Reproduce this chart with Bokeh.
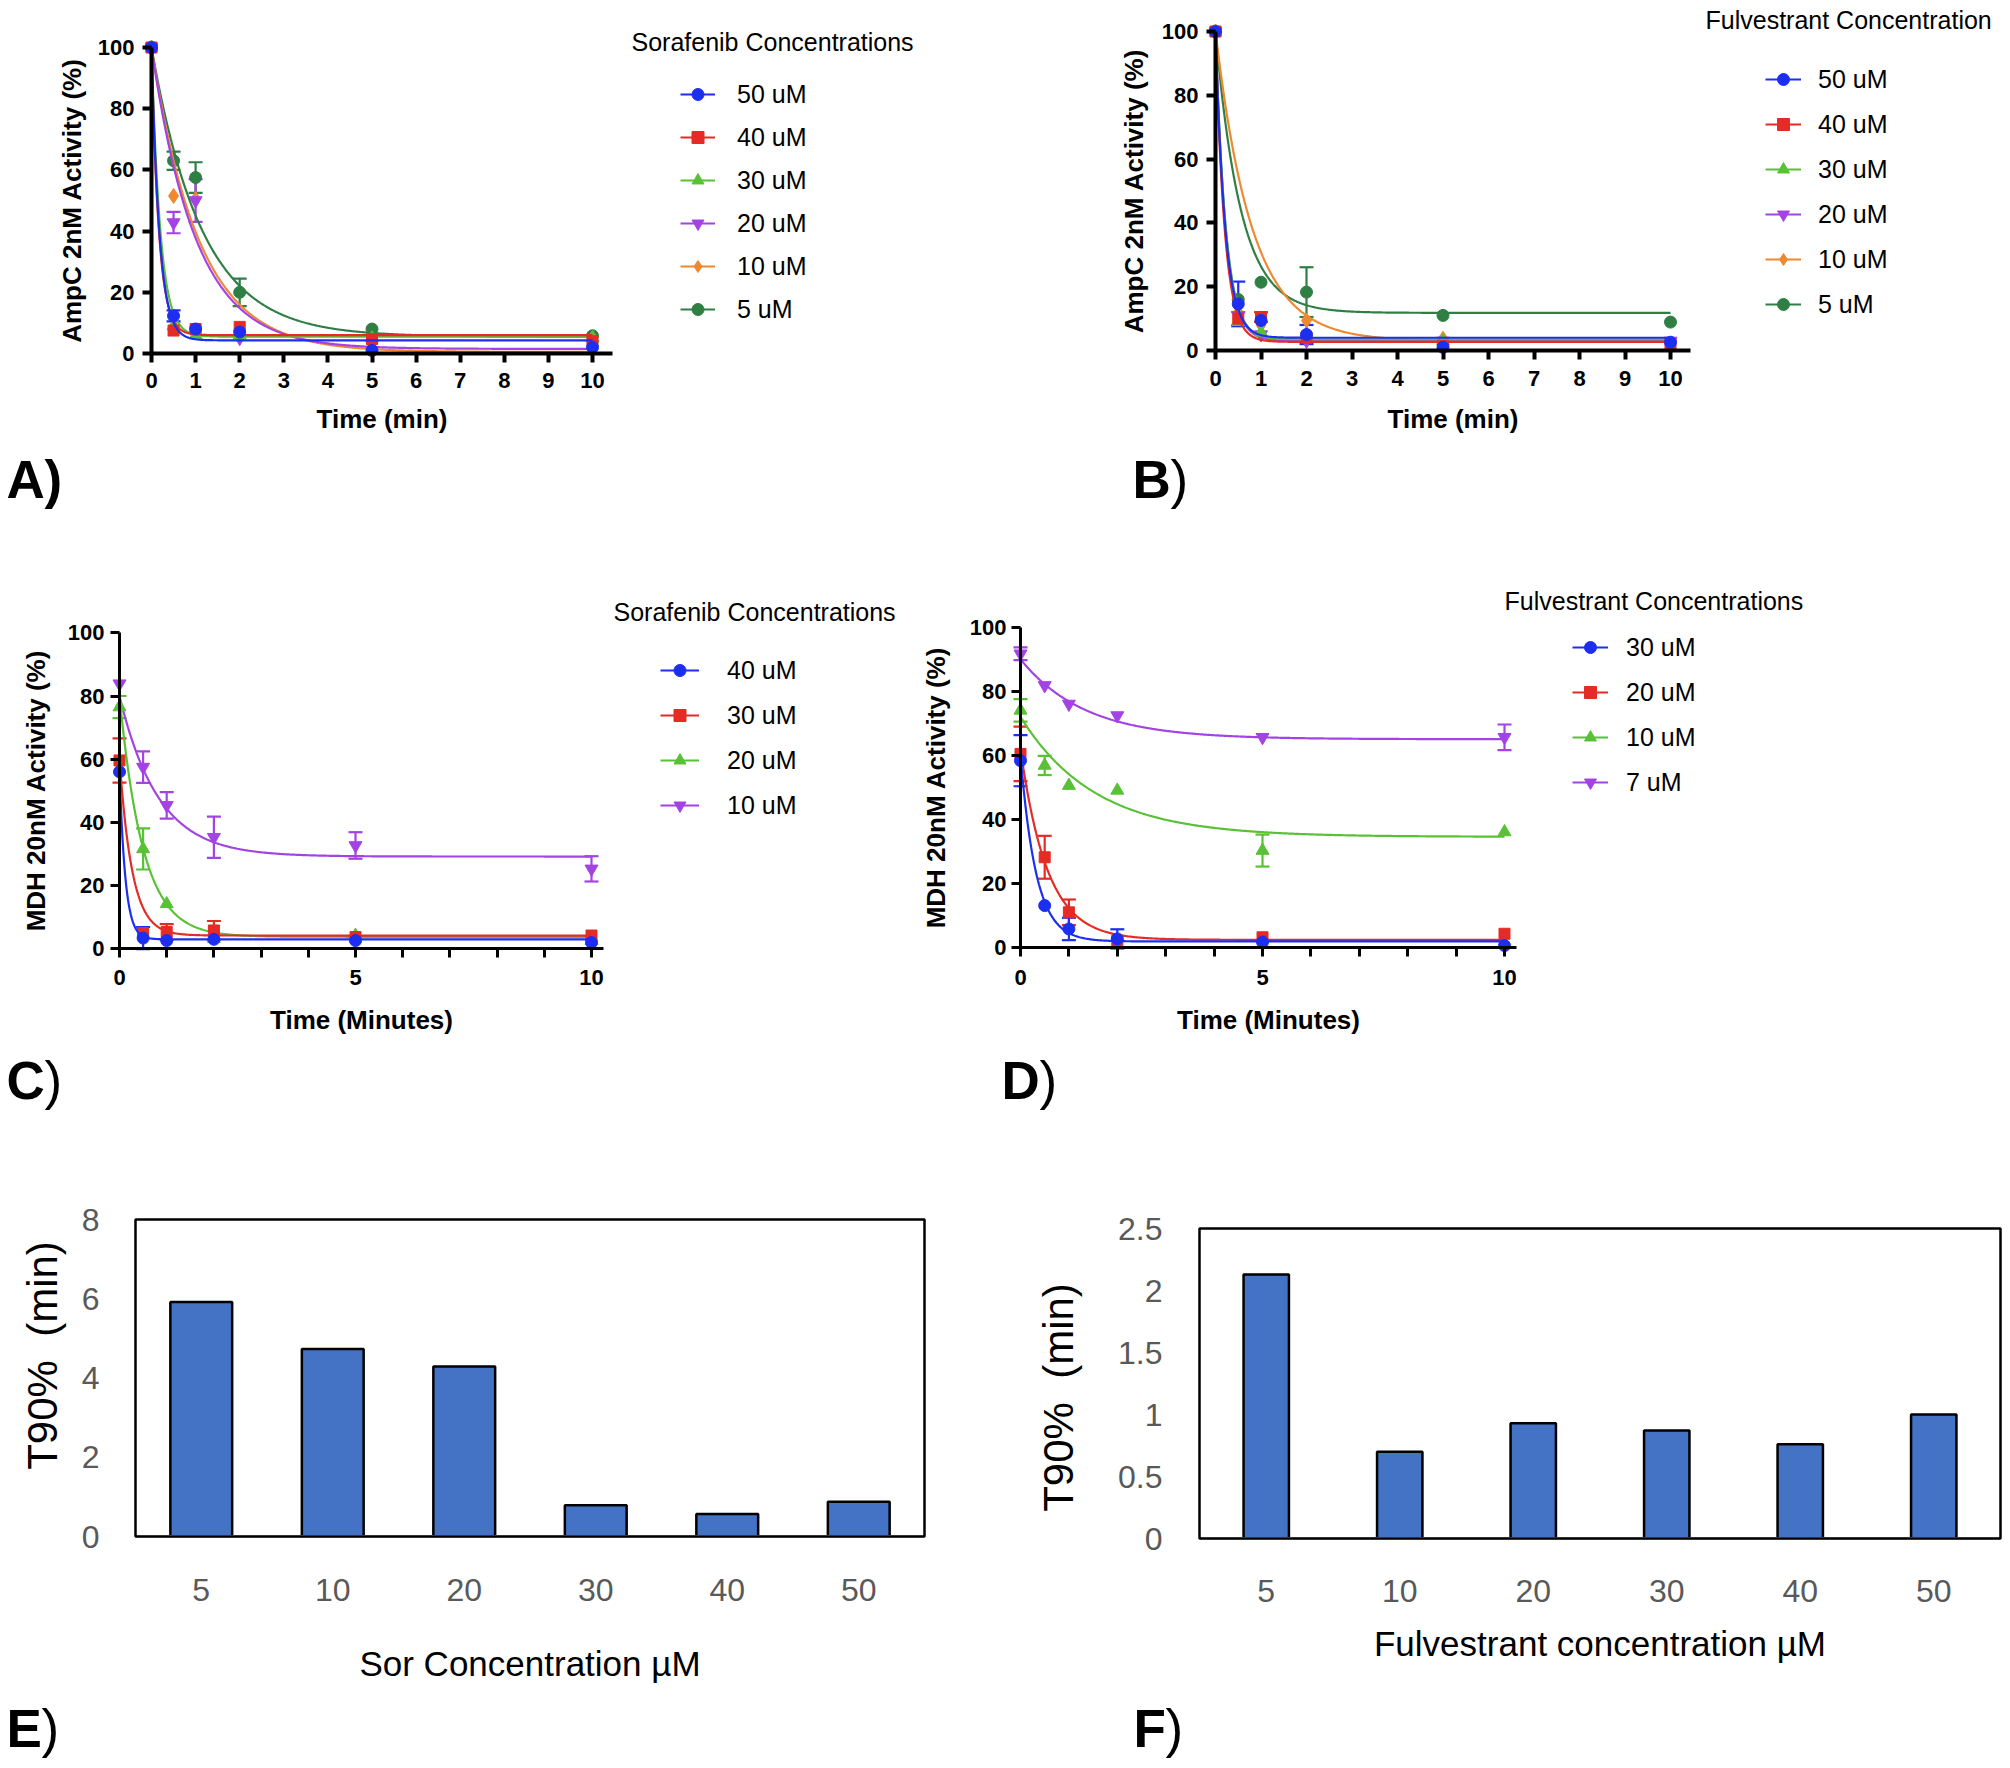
import math
import numpy as np
from bokeh.plotting import figure
from bokeh.models import (ColumnDataSource, Whisker, TeeHead, Legend, LegendItem,
                          Label, FixedTicker, Range1d, NumeralTickFormatter, BoxAnnotation)
from bokeh.layouts import row, column
from bokeh.embed import file_html
from bokeh.resources import INLINE

FONT = "Liberation Sans"
TIME = [0, 0.5, 1, 2, 5, 10]
X_TICKS = list(range(11))
Y_TICKS = [0, 20, 40, 60, 80, 100]

BLUE, RED, LGREEN, PURPLE, ORANGE, DGREEN = "#1c2ff0", "#e52b25", "#59c136", "#a443e3", "#f0882f", "#2f7f45"

# ---------------- Panel A : Sorafenib, AmpC 2nM ----------------
A_names = ["50 uM", "40 uM", "30 uM", "20 uM", "10 uM", "5 uM"]
A_50 = [100, 12.3, 8.0, 7.0, 1.0, 2.0]
A_40 = [100, 7.5, 8.0, 8.7, 4.7, 4.0]
A_30 = [100, 9.0, 6.0, 6.0, 5.0, 5.0]
A_20 = [100, 42.8, 50.0, 5.0, 3.0, 3.0]
A_10 = [100, 51.5, 50.5, 8.0, 4.0, 5.0]
A_5 = [100, 63.0, 57.5, 20.0, 8.0, 5.8]
A_50_err = [0, 1.8, 0, 0, 0, 0]
A_40_err = [0, 0, 0, 0, 0, 0]
A_30_err = [0, 0, 0, 0, 0, 0]
A_20_err = [0, 3.5, 7.0, 0, 0, 0]
A_10_err = [0, 0, 0, 0, 0, 0]
A_5_err = [0, 3.0, 5.0, 4.5, 0, 0]
A_fit_y0 = [100, 100, 100, 100, 100, 100]
A_fit_plateau = [4.3, 6.0, 5.5, 1.5, 0.5, 5.5]
A_fit_k = [5.6, 6.0, 5.0, 1.0, 0.93, 0.87]

# ---------------- Panel B : Fulvestrant, AmpC 2nM ----------------
B_names = ["50 uM", "40 uM", "30 uM", "20 uM", "10 uM", "5 uM"]
B_50 = [100, 14.6, 9.4, 5.0, 1.0, 2.6]
B_40 = [100, 10.0, 10.5, 4.0, 1.5, 2.0]
B_30 = [100, 9.0, 5.7, 4.0, 3.0, 1.0]
B_20 = [100, 11.0, 5.0, 3.0, 3.0, 3.0]
B_10 = [100, 12.0, 8.0, 9.4, 3.7, 1.5]
B_5 = [100, 16.0, 21.4, 18.3, 11.0, 8.9]
B_50_err = [0, 7.0, 0, 3.0, 0, 0]
B_40_err = [0, 2.0, 1.5, 0, 0, 0]
B_30_err = [0, 0, 0, 0, 0, 0]
B_20_err = [0, 0, 0, 0, 0, 0]
B_10_err = [0, 0, 0, 0, 0, 0]
B_5_err = [0, 0, 0, 7.8, 0, 0]
B_fit_y0 = [100, 100, 100, 100, 100, 100]
B_fit_plateau = [4.0, 2.7, 3.5, 3.0, 3.0, 11.8]
B_fit_k = [4.75, 5.0, 4.5, 4.5, 1.25, 1.8]

# ---------------- Panel C : Sorafenib, MDH 20nM ----------------
C_names = ["40 uM", "30 uM", "20 uM", "10 uM"]
C_40 = [56.0, 3.4, 2.6, 3.0, 2.6, 2.0]
C_30 = [59.6, 5.0, 5.3, 5.8, 3.7, 4.2]
C_20 = [76.5, 31.6, 14.2, 3.2, 4.2, 2.6]
C_10 = [83.9, 57.5, 45.4, 35.3, 32.7, 25.3]
C_40_err = [0, 3.5, 0, 0, 0, 0]
C_30_err = [7.0, 0, 2.5, 3.0, 0, 0]
C_20_err = [3.5, 6.5, 0, 0, 0, 0]
C_10_err = [0, 5.0, 4.2, 6.5, 4.2, 4.0]
C_fit_y0 = [56, 60, 80, 80]
C_fit_plateau = [3.0, 4.2, 3.8, 29.2]
C_fit_k = [8.0, 3.7, 2.0, 1.21]

# ---------------- Panel D : Fulvestrant, MDH 20nM ----------------
D_names = ["30 uM", "20 uM", "10 uM", "7 uM"]
D_30 = [58.3, 13.0, 5.7, 2.6, 1.6, 0.5]
D_20 = [60.4, 28.1, 10.9, 2.1, 3.1, 4.2]
D_10 = [74.0, 56.8, 50.5, 49.0, 30.2, 36.0]
D_7 = [91.7, 81.8, 76.0, 72.4, 65.6, 65.6]
D_30_err = [8.0, 0, 3.5, 3.0, 0, 0]
D_20_err = [8.5, 6.7, 4.0, 0, 0, 0]
D_10_err = [3.5, 3.0, 0, 0, 5.0, 0]
D_7_err = [2.0, 0, 0, 0, 0, 4.0]
D_fit_y0 = [60, 62, 72, 90]
D_fit_plateau = [1.8, 2.3, 34.5, 65.0]
D_fit_k = [3.1, 1.8, 0.65, 0.75]

# ---------------- Panels E / F : T90% ----------------
CONC = ["5", "10", "20", "30", "40", "50"]
E_t90 = [5.92, 4.73, 4.29, 0.79, 0.57, 0.88]
F_t90 = [2.13, 0.70, 0.93, 0.87, 0.76, 1.00]

SIX_COLORS = [BLUE, RED, LGREEN, PURPLE, ORANGE, DGREEN]
SIX_MARKERS = ["circle", "square", "triangle", "inverted_triangle", "diamond", "circle"]
FOUR_COLORS = [BLUE, RED, LGREEN, PURPLE]
FOUR_MARKERS = ["circle", "square", "triangle", "inverted_triangle"]
MSIZE = {"circle": 12, "square": 11, "triangle": 13, "inverted_triangle": 13, "diamond": 15}
LETTER_W = {"A": 38, "B": 38, "C": 38, "D": 38, "E": 35, "F": 32}


def base_figure(geom):
    # geom: canvas x, canvas y, width, height, px of data x=0, px/unit x, px of data y=0, px/unit y
    cx, cy, w, h, X0, sx, Y0, sy = geom
    p = figure(width=w, height=h,
               x_range=Range1d((cx - X0) / sx, (cx + w - X0) / sx),
               y_range=Range1d((Y0 - (cy + h)) / sy, (Y0 - cy) / sy),
               output_backend="svg", toolbar_location=None, title=None,
               min_border=0, min_border_left=0, min_border_right=0,
               min_border_top=0, min_border_bottom=0)
    p.outline_line_color = None
    p.xgrid.visible = False
    p.ygrid.visible = False
    p.background_fill_color = "white"
    p.border_fill_color = "white"
    p.xaxis[0].fixed_location = 0
    p.yaxis[0].fixed_location = 0
    return p


def scr(geom, ax, ay):
    cx, cy, w, h = geom[:4]
    return ax - cx, cy + h - ay


def add_text(p, geom, xy, text, size, bold=False, angle=0.0, align="left"):
    sx, sy = scr(geom, *xy)
    p.add_layout(Label(x=max(sx, 0), y=sy, x_units="screen", y_units="screen",
                       text=text, text_font=FONT, text_font_size=size, angle=angle,
                       text_font_style="bold" if bold else "normal", text_color="black",
                       text_baseline="middle", text_align=align))


def add_letter(p, geom, xy, letter, paren_bold):
    add_text(p, geom, xy, letter, "53px", bold=True)
    add_text(p, geom, (xy[0] + LETTER_W[letter], xy[1]), ")", "53px", bold=paren_bold)


def kinetics(geom, xbound, ylabel, xlabel, axis_w, names, values, errors, y0s, plats, ks,
             colors, markers, show_x_labels, leg_bl, leg_spacing, glyph_w, standoff,
             title_text, title_xy, letter_xy, letter, paren_bold, std):
    p = base_figure(geom)
    xa, ya = p.xaxis[0], p.yaxis[0]
    xa.bounds = (0, xbound)
    ya.bounds = (0, 100)
    xa.ticker = FixedTicker(ticks=X_TICKS)
    ya.ticker = FixedTicker(ticks=Y_TICKS)
    if show_x_labels is not None:
        xa.major_label_overrides = {t: (str(t) if t in show_x_labels else "") for t in X_TICKS}
    for ax in (xa, ya):
        ax.axis_line_width = axis_w
        ax.axis_line_color = "black"
        ax.major_tick_line_width = axis_w
        ax.major_tick_out = 9
        ax.major_tick_in = 0
        ax.minor_tick_line_color = None
        ax.major_label_text_font = FONT
        ax.major_label_text_font_style = "bold"
        ax.major_label_text_font_size = "22px"
        ax.major_label_text_color = "black"
        ax.axis_label_text_font = FONT
        ax.axis_label_text_font_style = "bold"
        ax.axis_label_text_font_size = "26px"
        ax.axis_label_text_color = "black"
    xa.axis_label = xlabel
    ya.axis_label = ylabel
    xa.major_label_standoff = std[0]
    xa.axis_label_standoff = std[1]
    ya.major_label_standoff = std[2]
    ya.axis_label_standoff = std[3]

    t = np.linspace(0, 10, 500)
    items = []
    n = len(names)
    for i in reversed(range(n)):
        c = colors[i]
        curve = plats[i] + (y0s[i] - plats[i]) * np.exp(-ks[i] * t)
        ln = p.line(t, curve, line_color=c, line_width=2.2)
        xs = [TIME[j] for j in range(6) if errors[i][j] > 0]
        up = [values[i][j] + errors[i][j] for j in range(6) if errors[i][j] > 0]
        lo = [values[i][j] - errors[i][j] for j in range(6) if errors[i][j] > 0]
        src = ColumnDataSource(dict(x=xs, upper=up, lower=lo))
        p.add_layout(Whisker(base="x", upper="upper", lower="lower", source=src,
                             line_color=c, line_width=2.2,
                             upper_head=TeeHead(size=14, line_color=c, line_width=2.2),
                             lower_head=TeeHead(size=14, line_color=c, line_width=2.2)))
        sc = p.scatter(TIME, values[i], marker=markers[i], size=MSIZE[markers[i]],
                       fill_color=c, line_color=c)
        items.append(LegendItem(label=names[i], renderers=[ln, sc]))
    items.reverse()
    lx, ly = scr(geom, *leg_bl)
    leg = Legend(items=items, location=(lx, ly), border_line_color=None,
                 background_fill_alpha=0, padding=0, margin=0, spacing=leg_spacing,
                 glyph_width=glyph_w, glyph_height=30, label_height=30,
                 label_standoff=standoff, label_text_font=FONT,
                 label_text_font_size="25px", label_text_color="black")
    p.add_layout(leg)
    add_text(p, geom, title_xy, title_text, "25px")
    add_letter(p, geom, letter_xy, letter, paren_bold)
    return p


GA = (0, 0, 1000, 540, 151, 44.1, 353, 3.06)
GB = (1000, 0, 1008, 540, 1215, 45.5, 350, 3.19)
GC = (0, 540, 913, 570, 119, 47.2, 948.3, 3.16)
GD = (913, 540, 1095, 570, 1020, 48.4, 946.7, 3.2)
GE = (0, 1110, 1000, 656, 135, 131.5, 1536, 39.625)
GF = (1000, 1110, 1008, 656, 1199, 133.5, 1538, 124.0)

pA = kinetics(GA, 10.45, "AmpC 2nM Activity (%)", "Time (min)", 4,
              A_names, [A_50, A_40, A_30, A_20, A_10, A_5],
              [A_50_err, A_40_err, A_30_err, A_20_err, A_10_err, A_5_err],
              A_fit_y0, A_fit_plateau, A_fit_k, SIX_COLORS, SIX_MARKERS,
              None, (680, 324), 13, 35, 22,
              "Sorafenib Concentrations", (631, 41), (6, 479), "A", True, (10, 13, 8, 8))

pB = kinetics(GB, 10.45, "AmpC 2nM Activity (%)", "Time (min)", 4,
              B_names, [B_50, B_40, B_30, B_20, B_10, B_5],
              [B_50_err, B_40_err, B_30_err, B_20_err, B_10_err, B_5_err],
              B_fit_y0, B_fit_plateau, B_fit_k, SIX_COLORS, SIX_MARKERS,
              None, (1765, 319), 15, 36, 17,
              "Fulvestrant Concentration", (1705, 19), (1132, 479), "B", False, (11, 15, 8, 10))

pC = kinetics(GC, 10.25, "MDH 20nM Activity (%)", "Time (Minutes)", 3,
              C_names, [C_40, C_30, C_20, C_10],
              [C_40_err, C_30_err, C_20_err, C_10_err],
              C_fit_y0, C_fit_plateau, C_fit_k, FOUR_COLORS, FOUR_MARKERS,
              [0, 5, 10], (660, 820), 15, 39, 28,
              "Sorafenib Concentrations", (613, 611), (6, 1080), "C", False, (12, 17, 6, 14))

pD = kinetics(GD, 10.25, "MDH 20nM Activity (%)", "Time (Minutes)", 3,
              D_names, [D_30, D_20, D_10, D_7],
              [D_30_err, D_20_err, D_10_err, D_7_err],
              D_fit_y0, D_fit_plateau, D_fit_k, FOUR_COLORS, FOUR_MARKERS,
              [0, 5, 10], (1572, 797), 15, 36, 18,
              "Fulvestrant Concentrations", (1504, 600), (1001, 1080), "D", False, (14, 16, 5, 16))


def bars(geom, vals, ymax, yticks, bar_w, xlabel, ytitle_xy, letter_xy, letter, std):
    p = base_figure(geom)
    pos = [i + 0.5 for i in range(len(CONC))]
    p.vbar(x=pos, top=vals, width=bar_w, fill_color="#4472c4", line_color="black", line_width=2.5)
    p.add_layout(BoxAnnotation(left=0, right=len(CONC), bottom=0, top=ymax, fill_alpha=0,
                               line_color="black", line_width=2.5, line_alpha=1))
    xa, ya = p.xaxis[0], p.yaxis[0]
    xa.bounds = (0, len(CONC))
    ya.bounds = (0, ymax)
    xa.ticker = FixedTicker(ticks=pos)
    xa.major_label_overrides = {x: c for x, c in zip(pos, CONC)}
    ya.ticker = FixedTicker(ticks=yticks)
    ya.formatter = NumeralTickFormatter(format="0.[0]")
    ya.axis_line_color = None
    xa.axis_line_color = "#d9d9d9"
    xa.axis_line_width = 3
    for ax in (xa, ya):
        ax.major_tick_line_color = None
        ax.minor_tick_line_color = None
        ax.major_tick_out = 0
        ax.major_tick_in = 0
        ax.major_label_text_font = FONT
        ax.major_label_text_font_size = "32px"
        ax.major_label_text_color = "#595959"
        ax.axis_label_text_font = FONT
        ax.axis_label_text_font_style = "normal"
        ax.axis_label_text_color = "black"
    xa.axis_label = xlabel
    xa.axis_label_text_font_size = "35px"
    xa.major_label_standoff = std[0]
    xa.axis_label_standoff = std[1]
    ya.major_label_standoff = std[2]
    add_text(p, geom, ytitle_xy, "T90%\u00a0\u00a0(min)", "42px", angle=math.pi / 2, align="center")
    add_letter(p, geom, letter_xy, letter, False)
    return p


pE = bars(GE, E_t90, 8, [0, 2, 4, 6, 8], 0.47, "Sor Concentration µM", (42, 1355),
          (6, 1728), "E", (42, 40, 36))
pF = bars(GF, F_t90, 2.5, [0, 0.5, 1, 1.5, 2, 2.5], 0.34, "Fulvestrant concentration µM",
          (1058, 1397), (1133, 1728), "F", (41, 19, 37))

layout = column(row(pA, pB), row(pC, pD), row(pE, pF))
open("out.html", "w").write(file_html(layout, INLINE))
